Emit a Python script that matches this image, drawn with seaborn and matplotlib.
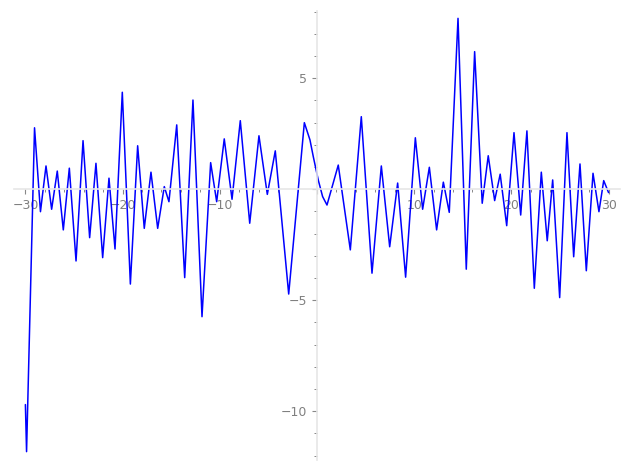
import numpy as np
import pandas as pd
import seaborn as sns
import matplotlib
matplotlib.use('Agg')
import matplotlib.pyplot as plt
from matplotlib.ticker import MultipleLocator, AutoMinorLocator, FuncFormatter

# Points (turning points plus a few on the slope near 0)
x_vals = [-30.0, -29.88, -29.06, -28.45, -27.88, -27.3, -26.72, -26.1, -25.48, -24.79,
          -24.07, -23.39, -22.74, -22.05, -21.4, -20.78, -20.03, -19.2, -18.45, -17.77,
          -17.08, -16.39, -15.71, -15.23, -14.43, -13.61, -12.76, -11.83, -10.94, -10.32,
          -9.54, -8.74, -7.89, -6.92, -5.97, -5.11, -4.29, -2.91, -1.3, -0.72,
          -0.38, 0.13, 0.58, 1.03, 2.19, 3.43, 4.56, 5.66, 6.62, 7.48,
          8.3, 9.12, 10.12, 10.87, 11.56, 12.31, 13.0, 13.61, 14.51, 15.36,
          16.22, 17.0, 17.62, 18.28, 18.85, 19.52, 20.27, 20.96, 21.6, 22.36,
          23.08, 23.69, 24.25, 24.97, 25.72, 26.41, 27.06, 27.71, 28.4, 29.01,
          29.5, 30.0]
y_vals = [-9.7, -11.82, 2.77, -1.01, 1.05, -0.9, 0.82, -1.83, 0.95, -3.23,
          2.19, -2.18, 1.17, -3.08, 0.5, -2.69, 4.37, -4.27, 1.96, -1.76,
          0.77, -1.76, 0.12, -0.56, 2.9, -3.98, 4.02, -5.74, 1.2, -0.56,
          2.27, -0.45, 3.09, -1.53, 2.41, -0.23, 1.73, -4.72, 3.0, 2.22,
          1.47, 0.42, -0.33, -0.71, 1.09, -2.73, 3.27, -3.78, 1.05, -2.59,
          0.28, -3.96, 2.32, -0.9, 0.99, -1.83, 0.32, -1.04, 7.7, -3.6,
          6.2, -0.63, 1.51, -0.51, 0.68, -1.64, 2.55, -1.16, 2.63, -4.46,
          0.77, -2.32, 0.42, -4.88, 2.55, -3.04, 1.14, -3.67, 0.72, -1.01,
          0.39, -0.15]

x_major = 10
y_major = 5

sns.set_style('white')
plt.rcParams['font.family'] = ['DejaVu Sans']

df = pd.DataFrame({'x': x_vals, 'y': y_vals})

fig = plt.figure(figsize=(6.27, 4.70), dpi=100)
ax = fig.add_axes([0.0219, 0.0211, 0.9673, 0.9564])

sns.lineplot(data=df, x='x', y='y', sort=False, estimator=None, color='#0000ff',
             linewidth=1.1, ax=ax)
for line in ax.get_lines():
    line.set_solid_joinstyle('round')

ax.set_xlim(-31.2, 31.2)
ax.set_ylim(-12.2, 8.05)

# axes cross at the origin, sage style
for side in ['top', 'right']:
    ax.spines[side].set_visible(False)
for side in ['left', 'bottom']:
    ax.spines[side].set_position('zero')
    ax.spines[side].set_color('#e6e6e6')
    ax.spines[side].set_linewidth(1.2)

ax.xaxis.set_major_locator(MultipleLocator(x_major))
ax.yaxis.set_major_locator(MultipleLocator(y_major))
ax.xaxis.set_minor_locator(AutoMinorLocator(5))
ax.yaxis.set_minor_locator(AutoMinorLocator(5))

no_zero = FuncFormatter(lambda v, pos: '' if abs(v) < 1e-9 else f'{v:g}'.replace('-', '\u2212'))
ax.xaxis.set_major_formatter(no_zero)
ax.yaxis.set_major_formatter(no_zero)

# seaborn's white style switches the tick marks off
ax.tick_params(which='both', bottom=True, left=True, top=False, right=False)
ax.tick_params(which='major', direction='out', length=3.5, width=0.8, color='#888888',
               labelcolor='#808080', labelsize=9)
ax.tick_params(which='minor', direction='out', length=2, width=0.7, color='#888888')
ax.set_xlabel('')
ax.set_ylabel('')

fig.savefig('out.png', dpi=100)
